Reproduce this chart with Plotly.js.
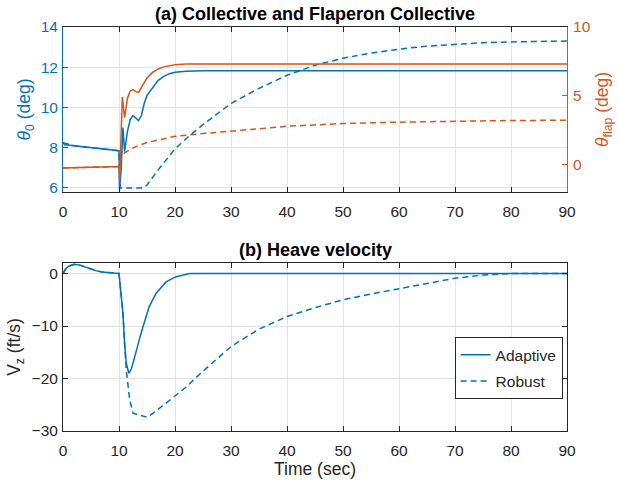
<!DOCTYPE html>
<html>
<head>
<meta charset="utf-8">
<script src="https://cdn.plot.ly/plotly-3.0.1.min.js"></script>
<style>html,body{margin:0;padding:0;background:#fff}#chart{width:618px;height:483px}</style>
</head>
<body>
<div id="chart"></div>
<script>
// ---- Data ----
// (a) Collective theta_0 (deg), left axis
const tTheta0Adaptive = [0, 0.3, 2, 5, 8, 10, 10.1, 10.4, 10.7, 11.0, 11.5, 12, 12.5, 13, 13.5, 14, 14.5, 15, 16, 17, 18, 19, 20, 22, 25, 90];
const theta0Adaptive  = [8.25, 8.15, 8.1, 8.0, 7.9, 7.85, 5.9, 7.0, 9.0, 7.8, 8.8, 9.4, 9.6, 9.45, 9.35, 9.6, 10.2, 10.6, 11.0, 11.35, 11.55, 11.68, 11.75, 11.8, 11.82, 11.82];
const tTheta0Robust = [0, 2, 5, 8, 10, 10.2, 14.4, 15, 17, 20, 22.6, 25, 30, 35, 40, 45, 50, 55, 60, 65, 70, 75, 80, 85, 90];
const theta0Robust  = [8.25, 8.1, 8.0, 7.9, 7.85, 6.0, 6.0, 6.15, 6.9, 7.95, 8.6, 9.15, 10.2, 10.95, 11.6, 12.1, 12.45, 12.7, 12.9, 13.05, 13.15, 13.22, 13.26, 13.28, 13.3];
// (a) Flaperon collective theta_flap (deg), right axis
const tFlapAdaptive = [0, 10, 10.1, 10.3, 10.6, 11.0, 11.5, 12, 12.5, 13, 13.5, 14, 15, 16, 17, 18, 19, 20, 22, 90];
const flapAdaptive  = [-0.25, -0.15, -1.2, 2.0, 4.9, 3.4, 4.8, 5.35, 5.45, 5.3, 5.25, 5.6, 6.3, 6.7, 6.95, 7.1, 7.2, 7.25, 7.3, 7.3];
const tFlapRobust = [0, 10, 10.5, 11, 12, 13, 15, 17, 20, 25, 30, 35, 40, 45, 50, 60, 70, 80, 90];
const flapRobust  = [-0.25, -0.15, 0.6, 0.85, 1.1, 1.3, 1.6, 1.8, 2.05, 2.25, 2.4, 2.6, 2.78, 2.9, 2.98, 3.08, 3.15, 3.2, 3.22];
// (b) Heave velocity Vz (ft/s)
const tVzAdaptive = [0, 0.5, 1, 2, 3, 4, 5, 6, 7, 8, 9, 10, 10.4, 10.7, 11.0, 11.3, 11.75, 12.2, 12.7, 13.1, 13.7, 14.3, 15.4, 16.6, 18.4, 20.2, 22.6, 25, 90];
const vzAdaptive  = [0, 0.9, 1.4, 1.75, 1.6, 1.2, 0.8, 0.5, 0.3, 0.15, 0.08, 0.0, -3.7, -7.5, -13.3, -17.1, -19.0, -18.2, -16.3, -14.6, -12.3, -10.1, -6.3, -3.8, -1.6, -0.6, 0.0, 0.0, 0.0];
const tVzRobust = [0, 0.5, 1, 2, 3, 4, 5, 6, 7, 8, 9, 10, 10.4, 10.7, 11.0, 11.3, 11.9, 12.5, 13.7, 15.1, 18.4, 22, 25, 30, 35, 40, 45, 50, 55, 60, 65, 70, 75, 80, 90];
const vzRobust  = [0, 0.9, 1.4, 1.75, 1.6, 1.2, 0.8, 0.5, 0.3, 0.15, 0.08, 0.0, -3.7, -7.5, -13.3, -18.4, -24.0, -26.6, -27.0, -27.4, -24.7, -21.6, -18.6, -13.9, -10.6, -8.2, -6.5, -5.0, -3.9, -2.95, -1.9, -0.9, -0.3, 0.0, 0.0];

const xTicks = [0, 10, 20, 30, 40, 50, 60, 70, 80, 90];
const theta0Ticks = [6, 8, 10, 12, 14];
const flapTicks = [0, 5, 10];
const vzTicks = [-30, -20, -10, 0];

const seriesNames = ['Adaptive', 'Robust'];

// ---- Styles ----
const BLUE = '#0072BD', ORANGE = '#D95319', AX = '#262626', GRID = '#e3e3e3';
const DASH = '6px,4px';
const FONT = '"Liberation Sans", Arial, Helvetica, sans-serif';
const TS = 15.5;

const traces = [
  {x: tTheta0Adaptive, y: theta0Adaptive, xaxis: 'x2', yaxis: 'y2', mode: 'lines', line: {color: BLUE, width: 1.5}, showlegend: false, hoverinfo: 'skip'},
  {x: tTheta0Robust, y: theta0Robust, xaxis: 'x2', yaxis: 'y2', mode: 'lines', line: {color: BLUE, width: 1.5, dash: DASH}, showlegend: false, hoverinfo: 'skip'},
  {x: tFlapAdaptive, y: flapAdaptive, xaxis: 'x2', yaxis: 'y3', mode: 'lines', line: {color: ORANGE, width: 1.5}, showlegend: false, hoverinfo: 'skip'},
  {x: tFlapRobust, y: flapRobust, xaxis: 'x2', yaxis: 'y3', mode: 'lines', line: {color: ORANGE, width: 1.5, dash: DASH}, showlegend: false, hoverinfo: 'skip'},
  {x: tVzAdaptive, y: vzAdaptive, xaxis: 'x', yaxis: 'y', mode: 'lines', name: seriesNames[0], legendgroup: 'g1', line: {color: BLUE, width: 1.5}},
  {x: tVzRobust, y: vzRobust, xaxis: 'x', yaxis: 'y', mode: 'lines', name: seriesNames[1], legendgroup: 'g2', line: {color: BLUE, width: 1.5, dash: DASH}}
];

const tickFont = {family: FONT, size: TS, color: AX};
const xCommon = {
  range: [0, 90], tickvals: xTicks, ticks: 'inside', ticklen: 5, tickcolor: AX,
  showline: true, linecolor: AX, linewidth: 1, mirror: 'ticks', ticklabelstandoff: 5,
  showgrid: true, gridcolor: GRID, gridwidth: 1, zeroline: false, tickfont: tickFont
};

const layout = {
  width: 618, height: 483,
  margin: {l: 63, r: 51, t: 27, b: 52},
  paper_bgcolor: '#fff', plot_bgcolor: '#fff',
  font: {family: FONT, color: AX},
  xaxis: Object.assign({}, xCommon, {domain: [0, 1], anchor: 'y',
    title: {text: 'Time (sec)', font: {family: FONT, size: 17.5, color: AX}, standoff: 3}}),
  yaxis: {domain: [0, 0.4158], anchor: 'x', range: [-30, 2], tickvals: vzTicks,
    ticks: 'inside', ticklen: 5, tickcolor: AX, showline: true, linecolor: AX, linewidth: 1, mirror: 'ticks',
    showgrid: true, gridcolor: GRID, zeroline: false, tickfont: tickFont, ticklabelstandoff: 1,
    title: {text: 'V<sub>z</sub> (ft/s)', font: {family: FONT, size: 17.5, color: AX}, standoff: 6}},
  xaxis2: Object.assign({}, xCommon, {domain: [0, 1], anchor: 'y2'}),
  yaxis2: {domain: [0.5916, 1], anchor: 'x2', range: [5.8, 14], tickvals: theta0Ticks,
    ticks: 'inside', ticklen: 5, tickcolor: BLUE, showline: true, linecolor: BLUE, linewidth: 1,
    showgrid: true, gridcolor: '#dde8f2', zeroline: false, tickfont: {family: FONT, size: TS, color: BLUE}, ticklabelstandoff: 1,
    title: {text: '<i>θ</i><sub>0</sub> (deg)', font: {family: FONT, size: 17.5, color: BLUE}, standoff: 5}},
  yaxis3: {overlaying: 'y2', side: 'right', anchor: 'x2', range: [-2, 10], tickvals: flapTicks,
    ticks: 'inside', ticklen: 5, tickcolor: ORANGE, showline: true, linecolor: ORANGE, linewidth: 1,
    showgrid: false, zeroline: false, tickfont: {family: FONT, size: TS, color: ORANGE}, ticklabelstandoff: 2,
    title: {text: '<i>θ</i><sub>flap</sub> (deg)', font: {family: FONT, size: 17.5, color: ORANGE}, standoff: 6}},
  legend: {x: 0.777, y: 0.232, xanchor: 'left', yanchor: 'top', bgcolor: '#fff',
    bordercolor: AX, borderwidth: 1, font: {family: FONT, size: TS, color: AX},
    tracegroupgap: 3, itemwidth: 30},
  showlegend: true,
  annotations: [
    {text: '<b>(a) Collective and Flaperon Collective</b>', xref: 'paper', yref: 'paper', x: 0.5, y: 1,
     xanchor: 'center', yanchor: 'bottom', yshift: 1, showarrow: false, font: {family: FONT, size: 18, color: '#000'}},
    {text: '<b>(b) Heave velocity</b>', xref: 'paper', yref: 'paper', x: 0.5, y: 0.4158,
     xanchor: 'center', yanchor: 'bottom', yshift: 1, showarrow: false, font: {family: FONT, size: 18, color: '#000'}}
  ]
};

Plotly.newPlot('chart', traces, layout, {displayModeBar: false, staticPlot: true});
</script>
</body>
</html>
